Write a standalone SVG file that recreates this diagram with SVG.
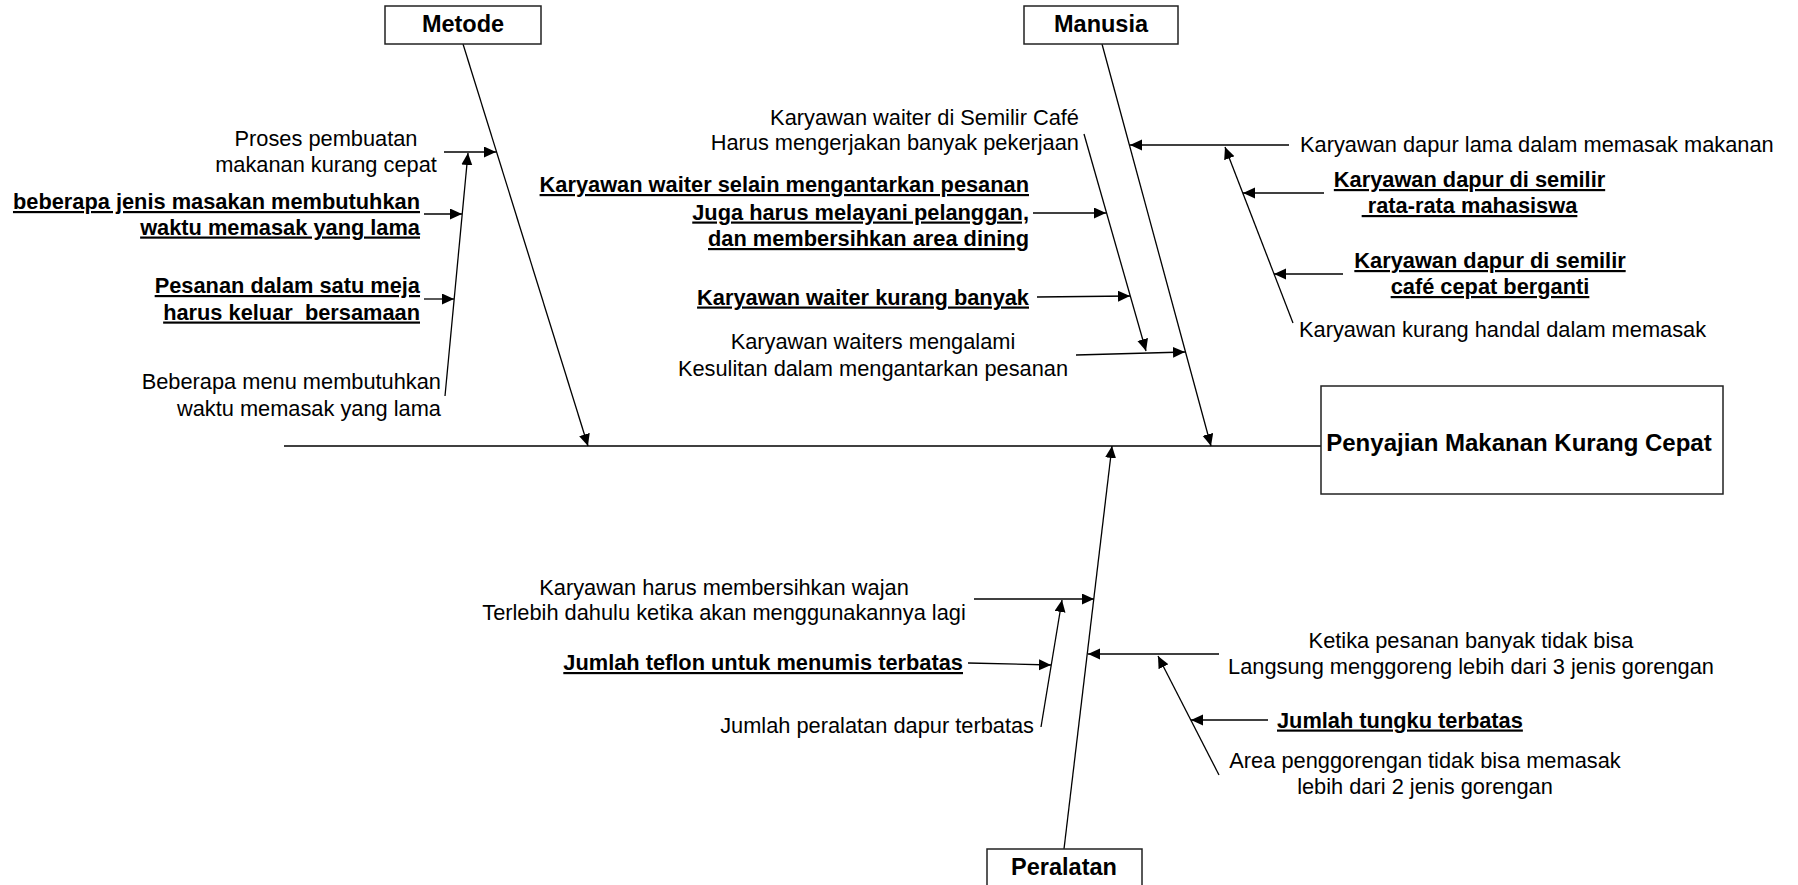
<svg xmlns="http://www.w3.org/2000/svg" width="1798" height="885" viewBox="0 0 1798 885">
<defs>
<marker id="ah" markerUnits="userSpaceOnUse" markerWidth="13" markerHeight="12" refX="12" refY="5.5" orient="auto">
<path d="M0,0 L12,5.5 L0,11 z" fill="#000"/>
</marker>
<style>
.box{fill:#fff;stroke:#222;stroke-width:1.5}
.hd{font-family:"Liberation Sans",Arial,sans-serif;font-size:23.5px;font-weight:bold;fill:#000;text-anchor:middle}
.eff{font-family:"Liberation Sans",Arial,sans-serif;font-size:24px;font-weight:bold;fill:#000;text-anchor:middle}
.t{font-family:"Liberation Sans",Arial,sans-serif;font-size:21.8px;fill:#000}
.b{font-family:"Liberation Sans",Arial,sans-serif;font-size:21.8px;font-weight:bold;fill:#000;text-decoration:underline}
.r{text-anchor:end}
.m{text-anchor:middle}
.ln{stroke:#000;stroke-width:1.3;fill:none}
.ar{stroke:#000;stroke-width:1.3;fill:none;marker-end:url(#ah)}
</style>
</defs>
<rect width="1798" height="885" fill="#fff"/>

<g id="connectors">
<line class="ln" x1="284" y1="446" x2="1321" y2="446"/>
<line class="ar" x1="463" y1="44" x2="588" y2="446"/>
<line class="ar" x1="1102" y1="44" x2="1211" y2="446"/>
<line class="ar" x1="1064" y1="849" x2="1112" y2="446"/>
<!-- Metode -->
<line class="ar" x1="444" y1="152" x2="496" y2="152"/>
<line class="ar" x1="445" y1="396" x2="468" y2="153"/>
<line class="ar" x1="424" y1="214" x2="462" y2="214"/>
<line class="ar" x1="424" y1="299" x2="454" y2="299"/>
<!-- Manusia left -->
<line class="ar" x1="1084" y1="134" x2="1146" y2="351"/>
<line class="ar" x1="1033" y1="213" x2="1106" y2="213"/>
<line class="ar" x1="1037" y1="297" x2="1130" y2="296"/>
<line class="ar" x1="1076" y1="355" x2="1185" y2="352"/>
<!-- Manusia right -->
<line class="ar" x1="1289" y1="145" x2="1130" y2="145"/>
<line class="ar" x1="1293" y1="323" x2="1225" y2="147"/>
<line class="ar" x1="1324" y1="193" x2="1243" y2="193"/>
<line class="ar" x1="1343" y1="274" x2="1274" y2="274"/>
<!-- Peralatan -->
<line class="ar" x1="974" y1="599" x2="1094" y2="599"/>
<line class="ar" x1="1041" y1="727" x2="1062" y2="600"/>
<line class="ar" x1="968" y1="663" x2="1051" y2="665"/>
<line class="ar" x1="1219" y1="654" x2="1088" y2="654"/>
<line class="ar" x1="1219" y1="775" x2="1158" y2="656"/>
<line class="ar" x1="1268" y1="720" x2="1191" y2="720"/>
</g>

<g id="metode">
<rect class="box" x="385" y="6" width="156" height="38"/>
<text class="hd" x="463" y="32">Metode</text>
</g>
<g id="manusia">
<rect class="box" x="1024" y="6" width="154" height="38"/>
<text class="hd" x="1101" y="32">Manusia</text>
</g>
<g id="peralatan">
<rect class="box" x="987" y="849" width="155" height="40"/>
<text class="hd" x="1064" y="875">Peralatan</text>
</g>
<g id="effect">
<rect class="box" x="1321" y="386" width="402" height="108"/>
<text class="eff" x="1519" y="451">Penyajian Makanan Kurang Cepat</text>
</g>

<g id="metode-causes">
<text class="t m" x="326" y="146">Proses pembuatan</text>
<text class="t m" x="326" y="171.5">makanan kurang cepat</text>
<text class="b r" x="420" y="209">beberapa jenis masakan membutuhkan</text>
<text class="b r" x="420" y="234.5">waktu memasak yang lama</text>
<text class="b r" x="420" y="293">Pesanan dalam satu meja</text>
<text class="b r" x="420" y="319.5" xml:space="preserve">harus keluar  bersamaan</text>
<text class="t r" x="441" y="389">Beberapa menu membutuhkan</text>
<text class="t r" x="441" y="415.5">waktu memasak yang lama</text>
</g>

<g id="manusia-causes">
<text class="t r" x="1079" y="124.5">Karyawan waiter di Semilir Café</text>
<text class="t r" x="1079" y="150">Harus mengerjakan banyak pekerjaan</text>
<text class="b r" x="1029" y="192">Karyawan waiter selain mengantarkan pesanan</text>
<text class="b r" x="1029" y="219.5">Juga harus melayani pelanggan,</text>
<text class="b r" x="1029" y="246">dan membersihkan area dining</text>
<text class="b r" x="1029" y="304.5">Karyawan waiter kurang banyak</text>
<text class="t m" x="873" y="349">Karyawan waiters mengalami</text>
<text class="t m" x="873" y="375.5">Kesulitan dalam mengantarkan pesanan</text>
<text class="t" x="1300" y="152">Karyawan dapur lama dalam memasak makanan</text>
<text class="b m" x="1469.5" y="187">Karyawan dapur di semilir</text>
<text class="b m" x="1469.5" y="213" xml:space="preserve"> rata-rata mahasiswa</text>
<text class="b m" x="1490" y="268">Karyawan dapur di semilir</text>
<text class="b m" x="1490" y="294">café cepat berganti</text>
<text class="t" x="1299" y="336.5">Karyawan kurang handal dalam memasak</text>
</g>

<g id="peralatan-causes">
<text class="t m" x="724" y="594.5">Karyawan harus membersihkan wajan</text>
<text class="t m" x="724" y="620">Terlebih dahulu ketika akan menggunakannya lagi</text>
<text class="b r" x="963" y="670">Jumlah teflon untuk menumis terbatas</text>
<text class="t r" x="1034" y="733">Jumlah peralatan dapur terbatas</text>
<text class="t m" x="1471" y="647.5">Ketika pesanan banyak tidak bisa</text>
<text class="t m" x="1471" y="673.5">Langsung menggoreng lebih dari 3 jenis gorengan</text>
<text class="b" x="1277" y="727.5">Jumlah tungku terbatas</text>
<text class="t m" x="1425" y="768">Area penggorengan tidak bisa memasak</text>
<text class="t m" x="1425" y="794">lebih dari 2 jenis gorengan</text>
</g>
</svg>
